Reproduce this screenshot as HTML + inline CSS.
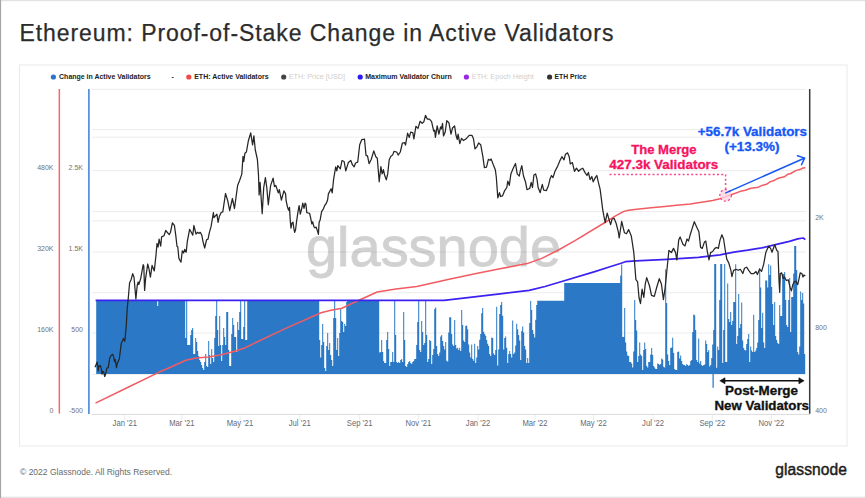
<!DOCTYPE html>
<html><head><meta charset="utf-8"><title>Ethereum: Proof-of-Stake Change in Active Validators</title>
<style>
html,body{margin:0;padding:0;background:#fff;}
body{width:865px;height:498px;overflow:hidden;font-family:"Liberation Sans",sans-serif;}
svg{display:block;}
text{font-family:"Liberation Sans",sans-serif;}
</style></head><body>
<svg width="865" height="498" viewBox="0 0 865 498">
<rect width="865" height="498" fill="#fff"/>
<!-- frame -->
<rect x="0" y="0" width="865" height="1.2" fill="#e2e2e2"/>
<rect x="0" y="496.6" width="865" height="1.4" fill="#e6e6e6"/>
<rect x="0" y="0" width="1.1" height="498" fill="#a6a6a6"/>
<!-- title -->
<text x="19.4" y="40.6" font-size="23" fill="#2c2c2c" stroke="#2c2c2c" stroke-width="0.25" textLength="594" lengthAdjust="spacing">Ethereum: Proof-of-Stake Change in Active Validators</text>
<!-- panel -->
<rect x="19.5" y="65" width="827.5" height="381" fill="#fff" stroke="#e9e9e9" stroke-width="1"/>
<!-- legend -->
<g font-size="7" font-weight="bold" fill="#222">
<circle cx="53.4" cy="77" r="2.6" fill="#2a74d0"/><text x="59.1" y="79.1" textLength="91.5" lengthAdjust="spacingAndGlyphs">Change in Active Validators</text>
<text x="171.5" y="79.1">-</text>
<circle cx="188.8" cy="77" r="2.6" fill="#f24a4a"/><text x="194.2" y="79.1" textLength="74.4" lengthAdjust="spacingAndGlyphs">ETH: Active Validators</text>
<circle cx="283.7" cy="77" r="2.6" fill="#444"/><text x="288.7" y="79.1" textLength="56.4" lengthAdjust="spacingAndGlyphs" fill="#cfcfcf" font-weight="normal">ETH: Price [USD]</text>
<circle cx="360.2" cy="77" r="2.6" fill="#2a18f5"/><text x="365.2" y="79.1" textLength="86.5" lengthAdjust="spacingAndGlyphs">Maximum Validator Churn</text>
<circle cx="466.4" cy="77" r="2.6" fill="#9a28e0"/><text x="471.8" y="79.1" textLength="62" lengthAdjust="spacingAndGlyphs" fill="#cfcfcf" font-weight="normal">ETH: Epoch Height</text>
<circle cx="549.6" cy="77" r="2.6" fill="#333"/><text x="554.6" y="79.1" textLength="32" lengthAdjust="spacingAndGlyphs">ETH Price</text>
</g>
<!-- grid -->
<g stroke="#ececec" stroke-width="1"><line x1="92" x2="806" y1="89.4" y2="89.4"/><line x1="92" x2="806" y1="129.6" y2="129.6"/><line x1="92" x2="806" y1="137.2" y2="137.2"/><line x1="92" x2="806" y1="170.7" y2="170.7"/><line x1="92" x2="806" y1="211.6" y2="211.6"/><line x1="92" x2="806" y1="220.9" y2="220.9"/><line x1="92" x2="806" y1="252" y2="252"/><line x1="92" x2="806" y1="292.7" y2="292.7"/><line x1="92" x2="806" y1="333" y2="333"/><line x1="92" x2="806" y1="374.4" y2="374.4"/></g>
<line x1="92" x2="810" y1="414.4" y2="414.4" stroke="#dadada" stroke-width="1"/>
<!-- watermark -->
<text x="306" y="265.7" font-size="56" fill="#000" stroke="#000" opacity="0.175" stroke-width="0.9" textLength="255" lengthAdjust="spacingAndGlyphs">glassnode</text>
<!-- bars -->
<path d="M96.2,374.0V300.9H97.2V300.9H98.2V300.9H99.2V300.9H100.2V300.9H101.2V300.9H102.2V300.9H103.2V300.9H104.2V300.9H105.2V300.9H106.2V300.9H107.2V300.9H108.2V300.9H109.2V300.9H110.2V300.9H111.2V300.9H112.2V300.9H113.2V300.9H114.2V300.9H115.2V300.9H116.2V300.9H117.2V300.9H118.2V300.9H119.2V300.9H120.2V300.9H121.2V300.9H122.2V300.9H123.2V300.9H124.2V300.9H125.2V300.9H126.2V300.9H127.2V300.9H128.2V300.9H129.2V300.9H130.2V300.9H131.2V300.9H132.2V300.9H133.2V300.9H134.2V300.9H135.2V300.9H136.2V300.9H137.2V300.9H138.2V300.9H139.2V300.9H140.2V300.9H141.2V300.9H142.2V300.9H143.2V300.9H144.2V300.9H145.2V300.9H146.2V300.9H147.2V300.9H148.2V300.9H149.2V300.9H150.2V300.9H151.2V300.9H152.2V300.9H153.2V300.9H154.2V300.9H155.2V300.9H156.2V300.9H157.2V306.0H158.2V300.9H159.2V300.9H160.2V300.9H161.2V300.9H162.2V300.9H163.2V300.9H164.2V300.9H165.2V300.9H166.2V300.9H167.2V300.9H168.2V300.9H169.2V300.9H170.2V300.9H171.2V300.9H172.2V300.9H173.2V300.9H174.2V300.9H175.2V300.9H176.2V300.9H177.2V300.9H178.2V300.9H179.2V300.9H180.2V300.9H181.2V300.9H182.2V300.9H183.2V300.9H184.2V300.9H185.2V338.0H186.2V300.9H187.2V345.0H188.2V345.0H189.2V345.0H190.2V335.0H191.2V330.0H192.2V328.0H193.2V354.0H194.2V354.0H195.2V338.0H196.2V342.0H197.2V351.0H198.2V356.0H199.2V360.0H200.2V362.0H201.2V365.0H202.2V368.0H203.2V370.0H204.2V362.0H205.2V354.0H206.2V366.0H207.2V367.0H208.2V341.0H209.2V355.0H210.2V364.0H211.2V349.0H212.2V358.0H213.2V362.0H214.2V338.0H215.2V316.0H216.2V300.9H217.2V330.0H218.2V346.0H219.2V316.0H220.2V345.0H221.2V361.0H222.2V345.0H223.2V328.0H224.2V337.0H225.2V345.0H226.2V312.0H227.2V312.0H228.2V350.0H229.2V366.0H230.2V366.0H231.2V334.0H232.2V318.0H233.2V325.0H234.2V337.0H235.2V337.0H236.2V352.0H237.2V322.0H238.2V330.0H239.2V312.0H240.2V300.9H241.2V339.0H242.2V339.0H243.2V327.0H244.2V300.9H245.2V340.0H246.2V340.0H247.2V300.9H248.2V300.9H249.2V300.9H250.2V300.9H251.2V300.9H252.2V300.9H253.2V300.9H254.2V300.9H255.2V300.9H256.2V300.9H257.2V300.9H258.2V300.9H259.2V300.9H260.2V300.9H261.2V300.9H262.2V300.9H263.2V300.9H264.2V300.9H265.2V300.9H266.2V300.9H267.2V300.9H268.2V300.9H269.2V300.9H270.2V300.9H271.2V300.9H272.2V300.9H273.2V300.9H274.2V300.9H275.2V300.9H276.2V300.9H277.2V300.9H278.2V300.9H279.2V300.9H280.2V300.9H281.2V300.9H282.2V300.9H283.2V300.9H284.2V300.9H285.2V300.9H286.2V300.9H287.2V300.9H288.2V300.9H289.2V300.9H290.2V300.9H291.2V300.9H292.2V300.9H293.2V300.9H294.2V300.9H295.2V300.9H296.2V300.9H297.2V300.9H298.2V300.9H299.2V300.9H300.2V300.9H301.2V300.9H302.2V300.9H303.2V300.9H304.2V300.9H305.2V300.9H306.2V300.9H307.2V300.9H308.2V300.9H309.2V300.9H310.2V300.9H311.2V300.9H312.2V300.9H313.2V300.9H314.2V300.9H315.2V300.9H316.2V300.9H317.2V300.9H318.2V300.9H319.2V340.0H320.2V357.5H321.2V345.0H322.2V324.0H323.2V342.0H324.2V368.0H325.2V371.0H326.2V346.0H327.2V333.0H328.2V350.0H329.2V343.0H330.2V355.0H331.2V360.0H332.2V366.0H333.2V318.0H334.2V300.9H335.2V318.0H336.2V350.0H337.2V338.0H338.2V356.0H339.2V333.0H340.2V309.0H341.2V321.0H342.2V322.0H343.2V332.0H344.2V324.0H345.2V326.0H346.2V302.0H347.2V300.9H348.2V300.9H349.2V300.9H350.2V300.9H351.2V300.9H352.2V300.9H353.2V300.9H354.2V300.9H355.2V300.9H356.2V300.9H357.2V300.9H358.2V300.9H359.2V300.9H360.2V300.9H361.2V300.9H362.2V300.9H363.2V300.9H364.2V300.9H365.2V300.9H366.2V300.9H367.2V300.9H368.2V300.9H369.2V300.9H370.2V300.9H371.2V300.9H372.2V300.9H373.2V300.9H374.2V300.9H375.2V300.9H376.2V300.9H377.2V300.9H378.2V300.9H379.2V352.6H380.2V352.0H381.2V340.0H382.2V352.0H383.2V361.0H384.2V363.0H385.2V363.0H386.2V340.0H387.2V332.0H388.2V349.0H389.2V366.0H390.2V362.0H391.2V362.0H392.2V352.0H393.2V362.0H394.2V301.0H395.2V335.0H396.2V362.0H397.2V363.0H398.2V362.0H399.2V363.0H400.2V360.0H401.2V359.0H402.2V362.0H403.2V312.0H404.2V340.0H405.2V366.0H406.2V367.0H407.2V364.0H408.2V362.0H409.2V361.0H410.2V363.0H411.2V364.0H412.2V362.0H413.2V361.0H414.2V359.0H415.2V359.0H416.2V345.0H417.2V322.0H418.2V301.0H419.2V350.0H420.2V352.0H421.2V321.0H422.2V332.0H423.2V345.0H424.2V343.0H425.2V300.9H426.2V335.0H427.2V362.0H428.2V359.0H429.2V340.0H430.2V341.0H431.2V364.0H432.2V355.0H433.2V349.0H434.2V309.0H435.2V307.6H436.2V346.0H437.2V354.0H438.2V356.0H439.2V352.6H440.2V336.6H441.2V335.0H442.2V341.0H443.2V346.0H444.2V349.4H445.2V342.0H446.2V360.7H447.2V361.5H448.2V332.5H449.2V317.3H450.2V317.3H451.2V334.0H452.2V344.6H453.2V346.0H454.2V320.0H455.2V345.0H456.2V348.6H457.2V347.8H458.2V350.0H459.2V347.8H460.2V351.0H461.2V310.0H462.2V325.0H463.2V340.6H464.2V342.0H465.2V326.0H466.2V325.6H467.2V329.3H468.2V344.6H469.2V352.6H470.2V357.5H471.2V344.6H472.2V359.0H473.2V360.7H474.2V343.8H475.2V363.0H476.2V357.5H477.2V346.0H478.2V349.4H479.2V339.8H480.2V334.0H481.2V313.3H482.2V308.0H483.2V331.7H484.2V334.0H485.2V335.8H486.2V340.0H487.2V343.8H488.2V346.0H489.2V354.0H490.2V356.0H491.2V337.4H492.2V338.0H493.2V353.4H494.2V355.0H495.2V350.0H496.2V306.8H497.2V365.5H498.2V349.4H499.2V314.0H500.2V305.0H501.2V302.0H502.2V315.7H503.2V349.4H504.2V338.0H505.2V336.6H506.2V347.8H507.2V363.0H508.2V354.0H509.2V351.0H510.2V354.0H511.2V357.5H512.2V320.5H513.2V354.0H514.2V352.6H515.2V345.4H516.2V323.7H517.2V329.3H518.2V335.0H519.2V340.6H520.2V359.9H521.2V331.0H522.2V326.6H523.2V332.5H524.2V346.0H525.2V349.4H526.2V363.0H527.2V358.0H528.2V363.0H529.2V323.0H530.2V301.0H531.2V310.0H532.2V330.0H533.2V334.0H534.2V337.4H535.2V319.7H536.2V305.0H537.2V300.7H538.2V300.7H539.2V300.7H540.2V300.7H541.2V300.7H542.2V300.7H543.2V300.7H544.2V300.7H545.2V300.7H546.2V300.7H547.2V300.7H548.2V300.7H549.2V300.7H550.2V300.7H551.2V300.7H552.2V300.7H553.2V300.7H554.2V300.7H555.2V300.7H556.2V300.7H557.2V300.7H558.2V300.7H559.2V300.7H560.2V300.7H561.2V300.7H562.2V300.7H563.2V300.7H564.2V283.0H565.2V283.0H566.2V283.0H567.2V283.0H568.2V283.0H569.2V283.0H570.2V283.0H571.2V283.0H572.2V283.0H573.2V283.0H574.2V283.0H575.2V283.0H576.2V283.0H577.2V283.0H578.2V283.0H579.2V283.0H580.2V283.0H581.2V283.0H582.2V283.0H583.2V283.0H584.2V283.0H585.2V283.0H586.2V283.0H587.2V283.0H588.2V283.0H589.2V283.0H590.2V283.0H591.2V283.0H592.2V283.0H593.2V283.0H594.2V283.0H595.2V283.0H596.2V283.0H597.2V283.0H598.2V283.0H599.2V283.0H600.2V283.0H601.2V283.0H602.2V283.0H603.2V283.0H604.2V283.0H605.2V283.0H606.2V283.0H607.2V283.0H608.2V283.0H609.2V283.0H610.2V283.0H611.2V283.0H612.2V283.0H613.2V283.0H614.2V283.0H615.2V283.0H616.2V283.0H617.2V283.0H618.2V283.0H619.2V283.0H620.2V275.5H621.2V264.6H622.2V337.0H623.2V337.0H624.2V308.0H625.2V342.6H626.2V351.4H627.2V355.4H628.2V356.0H629.2V362.0H630.2V362.0H631.2V363.5H632.2V367.5H633.2V351.4H634.2V300.0H635.2V320.0H636.2V330.5H637.2V362.0H638.2V356.0H639.2V342.6H640.2V354.6H641.2V356.0H642.2V370.0H643.2V350.0H644.2V342.6H645.2V349.0H646.2V366.0H647.2V367.5H648.2V362.0H649.2V362.0H650.2V354.6H651.2V348.0H652.2V355.0H653.2V366.0H654.2V367.5H655.2V369.0H656.2V369.0H657.2V363.5H658.2V364.0H659.2V365.0H660.2V364.0H661.2V358.6H662.2V359.5H663.2V366.7H664.2V367.5H665.2V269.3H666.2V303.0H667.2V354.6H668.2V361.0H669.2V365.0H670.2V348.0H671.2V347.4H672.2V337.8H673.2V353.0H674.2V369.0H675.2V370.0H676.2V370.0H677.2V352.0H678.2V351.4H679.2V358.6H680.2V355.4H681.2V361.0H682.2V364.0H683.2V365.0H684.2V365.0H685.2V366.0H686.2V364.0H687.2V365.0H688.2V366.0H689.2V365.0H690.2V361.0H691.2V360.0H692.2V332.0H693.2V314.5H694.2V315.3H695.2V330.0H696.2V360.0H697.2V362.0H698.2V338.6H699.2V363.5H700.2V361.0H701.2V365.0H702.2V366.0H703.2V365.0H704.2V364.5H705.2V340.6H706.2V344.0H707.2V352.0H708.2V350.0H709.2V366.5H710.2V365.0H711.2V358.0H712.2V344.6H713.2V330.0H714.2V264.0H715.2V264.0H716.2V367.8H717.2V346.6H718.2V350.0H719.2V300.0H720.2V264.0H721.2V264.0H722.2V363.0H723.2V330.0H724.2V264.0H725.2V362.0H726.2V362.0H727.2V283.6H728.2V319.0H729.2V322.0H730.2V312.0H731.2V325.0H732.2V321.0H733.2V302.0H734.2V302.0H735.2V264.3H736.2V344.0H737.2V336.0H738.2V294.0H739.2V328.0H740.2V324.0H741.2V302.6H742.2V340.6H743.2V348.0H744.2V350.0H745.2V350.6H746.2V344.0H747.2V339.0H748.2V334.0H749.2V362.0H750.2V346.6H751.2V350.6H752.2V352.0H753.2V314.7H754.2V352.0H755.2V350.6H756.2V348.0H757.2V342.6H758.2V320.0H759.2V268.0H760.2V287.6H761.2V328.0H762.2V312.8H763.2V342.6H764.2V348.0H765.2V280.5H766.2V280.5H767.2V287.6H768.2V264.3H769.2V275.0H770.2V265.6H771.2V287.0H772.2V304.0H773.2V325.0H774.2V302.0H775.2V336.0H776.2V340.0H777.2V343.0H778.2V344.0H779.2V305.0H780.2V316.0H781.2V316.0H782.2V274.0H783.2V274.0H784.2V272.0H785.2V300.0H786.2V325.0H787.2V327.0H788.2V300.0H789.2V278.0H790.2V332.0H791.2V297.0H792.2V297.0H793.2V273.6H794.2V246.0H795.2V246.0H796.2V270.0H797.2V352.0H798.2V354.5H799.2V346.6H800.2V291.6H801.2V300.0H802.2V293.0H803.2V303.5H804.2V354.0H805.2V374.0Z" fill="#2b79c6"/>
<rect x="712.4" y="374" width="1.5" height="13.8" fill="#4a8fd8"/>
<!-- lines -->
<polyline points="95.5,403.1 129.6,386.5 158.7,372.3 169.9,367.5 185.8,360.3 196.2,358.0 208.7,356.9 221.0,354.8 233.7,351.5 244.0,348.2 283.6,329.4 321.0,312.8 331.0,310.3 341.8,308.3 360.6,299.5 377.2,292.0 396.0,289.1 416.8,286.6 448.0,279.5 475.0,273.8 500.0,268.8 527.1,263.6 541.8,258.4 558.5,250.0 569.2,243.8 575.0,240.6 606.6,221.5 616.0,215.7 622.9,211.8 627.0,210.6 634.6,209.4 650.9,207.7 664.8,206.5 676.5,205.3 690.5,204.1 696.6,203.0 712.7,200.6 720.0,198.8 725.6,196.6 732.6,194.2 741.8,190.9 745.3,190.3 751.0,188.2 758.3,187.2 762.0,185.4 766.4,184.3 770.0,181.9 774.6,180.2 779.0,178.0 784.3,176.8 788.0,174.2 790.8,173.5 795.7,170.6 800.6,169.2 803.0,168.0 805.4,167.8" fill="none" stroke="#f15c62" stroke-width="1.5" stroke-linejoin="round"/>
<polyline points="95.6,300.4 444.0,300.4 470.0,297.4 500.0,293.9 529.2,290.3 545.0,286.5 562.6,281.3 594.0,271.9 610.0,266.8 621.1,263.2 625.3,261.7 636.0,260.9 667.2,259.3 698.5,257.4 720.0,254.8 733.9,252.1 747.7,250.2 761.6,247.9 775.5,244.7 789.4,241.4 797.7,238.9 803.2,238.0 805.3,239.6" fill="none" stroke="#3b22f2" stroke-width="1.7" stroke-linejoin="round"/>
<polyline points="95.0,367.3 97.2,362.1 97.6,365.7 98.2,370.9 98.8,366.1 100.3,365.5 101.2,368.1 102.0,374.1 102.9,371.3 103.8,372.5 104.7,376.5 105.7,373.7 106.9,368.1 108.3,367.7 109.7,358.1 111.3,355.3 112.7,354.3 113.7,356.9 114.5,361.7 115.1,359.3 115.9,363.3 116.5,367.7 117.3,363.3 119.3,358.9 120.5,349.6 121.3,343.2 122.9,340.0 123.4,338.5 124.8,341.3 126.2,326.7 127.3,307.3 128.2,299.0 129.6,282.7 131.0,280.0 132.7,273.7 134.0,277.2 135.9,299.0 137.2,285.5 138.2,282.0 138.8,284.5 140.7,278.6 143.2,264.7 143.8,266.0 144.6,290.4 145.6,278.6 147.7,264.0 149.0,268.9 150.4,277.2 152.1,265.4 154.3,270.9 156.0,255.0 157.0,243.5 158.1,247.0 159.1,239.2 160.7,246.2 161.6,236.9 164.0,235.7 165.7,230.5 169.2,234.6 170.4,232.5 172.4,222.9 174.4,225.3 175.8,235.7 177.0,246.2 177.8,247.0 178.9,258.4 181.0,262.2 182.3,250.8 183.6,253.0 184.7,249.4 186.2,252.2 187.3,241.6 189.6,229.3 191.3,232.3 192.8,235.2 193.9,225.5 196.0,234.0 197.7,232.3 198.9,233.4 200.3,232.3 201.8,235.2 203.0,241.6 204.7,248.0 206.5,239.8 208.0,239.2 209.4,232.3 211.1,226.4 213.4,212.5 214.0,217.7 216.9,214.2 218.1,222.4 219.3,216.5 221.2,212.5 222.8,211.9 225.5,193.5 227.6,200.2 229.7,210.6 232.4,198.5 234.5,208.5 237.6,185.6 239.7,180.3 241.8,174.1 243.0,156.3 243.8,161.5 244.9,153.2 246.4,152.0 248.4,140.7 250.7,132.9 252.6,144.8 253.9,135.9 255.3,150.0 257.4,159.5 258.5,175.1 259.1,195.0 260.1,182.4 262.2,213.7 263.7,187.6 265.4,177.6 266.8,187.6 268.3,204.8 270.6,185.6 273.1,178.2 274.5,186.6 275.8,185.5 278.3,192.9 279.3,189.7 281.4,200.2 283.9,190.8 285.6,193.9 286.1,200.7 287.5,207.0 288.6,210.2 289.5,207.4 290.3,221.1 291.0,228.1 291.9,223.2 293.0,222.1 293.8,228.1 294.7,232.3 295.6,229.5 296.6,221.1 298.1,211.2 299.1,205.6 300.3,214.1 301.6,209.1 302.8,203.2 304.0,208.4 305.1,203.2 305.9,204.2 306.8,212.6 308.2,213.0 309.6,213.4 310.6,217.6 311.8,223.9 312.7,221.8 313.9,226.7 314.9,227.8 316.2,227.1 317.4,230.9 318.4,234.4 319.1,222.5 320.2,219.7 321.6,211.6 323.4,208.8 324.8,205.3 326.2,203.5 327.6,200.0 328.4,193.9 331.1,188.7 332.2,192.9 333.6,179.3 335.7,166.8 336.8,170.9 337.8,165.7 340.3,168.9 342.0,160.5 344.1,161.5 345.8,170.9 348.3,162.6 350.8,160.5 352.4,164.7 354.1,166.8 355.6,163.0 357.7,162.2 359.7,144.8 361.8,139.6 364.5,139.2 366.0,155.3 367.5,155.9 369.1,163.6 371.2,159.5 373.8,150.9 375.8,156.8 377.3,158.2 379.2,181.8 380.9,166.6 382.1,173.9 383.4,169.7 384.6,175.0 386.3,179.8 387.7,173.9 389.2,159.7 390.9,156.2 392.6,155.1 394.0,151.4 396.7,152.0 398.2,155.1 400.3,152.0 402.4,143.0 404.5,142.6 405.5,145.1 407.6,133.2 409.3,137.4 410.7,132.1 412.8,132.6 413.9,138.8 415.9,126.3 418.0,128.4 420.1,121.3 422.2,123.4 423.9,121.7 425.5,115.4 427.4,119.2 429.5,119.2 431.6,121.7 433.7,131.1 434.7,130.1 435.4,137.4 437.2,125.9 438.9,134.2 440.6,126.9 441.4,129.0 442.5,123.4 443.5,135.9 445.2,132.1 446.8,120.7 448.9,122.7 451.0,134.2 452.5,128.0 454.6,125.9 456.0,135.3 457.3,139.5 458.1,134.2 459.8,143.6 461.5,138.4 463.5,140.5 466.1,138.8 469.2,135.3 471.9,135.3 473.4,138.4 475.0,148.9 476.9,146.8 478.6,143.0 480.7,144.7 482.8,156.2 484.4,167.6 486.5,167.2 488.4,159.3 490.1,160.3 491.1,158.9 493.2,164.5 495.3,169.7 496.3,177.0 497.8,197.9 499.5,192.7 500.5,196.5 502.6,195.8 504.7,190.6 506.8,187.5 507.8,181.2 509.3,185.4 510.9,173.9 513.0,168.7 515.5,163.5 517.2,173.9 519.3,176.0 520.3,170.8 521.8,165.6 523.5,176.0 525.6,182.3 527.0,189.6 529.7,188.5 531.2,182.3 532.5,187.5 533.9,175.0 535.6,173.9 537.0,179.1 538.1,187.5 540.2,192.7 542.3,184.3 543.7,190.1 546.4,190.6 548.5,185.4 550.0,179.1 551.5,175.5 553.0,177.6 555.0,171.3 557.7,166.1 559.8,160.9 561.9,156.7 564.0,159.8 565.5,154.2 567.6,152.9 569.2,156.7 570.3,164.0 572.4,162.6 574.5,171.3 576.5,168.2 578.6,171.3 580.7,169.2 582.8,168.2 584.9,172.4 587.0,175.5 588.4,172.4 590.1,179.7 591.8,176.5 593.2,181.8 595.3,177.6 596.8,175.5 598.5,182.8 600.1,189.1 601.6,200.6 602.6,208.9 603.7,215.2 605.2,222.5 607.2,213.1 609.3,220.4 610.6,224.6 612.0,219.3 614.1,218.3 616.2,223.5 618.3,231.9 619.2,238.0 621.7,221.3 624.4,232.7 626.5,233.8 628.6,229.6 631.3,235.9 633.8,252.6 635.9,279.7 637.6,281.8 639.0,297.5 640.5,303.7 642.1,289.1 643.8,297.5 645.3,283.9 646.7,277.6 649.5,286.0 651.5,295.4 654.3,296.4 656.8,287.0 659.3,278.7 661.4,283.9 663.4,299.6 665.1,288.1 667.2,267.2 668.9,250.5 671.4,252.6 673.5,248.4 675.6,252.6 676.8,259.9 678.7,240.1 680.1,236.9 682.9,244.2 685.0,245.9 687.0,239.0 688.5,241.1 690.2,234.8 691.8,229.6 694.3,221.7 696.9,227.5 698.9,231.7 700.6,247.4 702.3,248.4 704.4,242.1 705.8,241.1 707.3,251.5 709.0,259.9 710.6,252.6 712.7,251.5 714.8,248.4 716.9,247.4 718.4,248.4 720.0,240.1 721.9,234.8 723.6,239.0 725.3,250.5 726.7,258.9 728.8,263.0 730.9,270.3 731.9,276.6 733.6,270.3 736.1,269.3 738.2,270.3 740.3,269.3 742.8,273.5 744.5,268.2 746.6,267.2 748.7,270.3 751.1,273.5 753.9,273.5 756.0,271.4 757.4,274.5 759.5,269.3 761.6,271.4 763.7,264.1 765.8,252.6 768.5,246.3 770.6,248.4 772.0,252.2 774.7,244.7 776.8,250.5 778.0,251.4 779.0,280.5 779.7,292.3 780.3,273.6 781.7,272.9 783.1,278.4 784.5,277.0 786.3,280.5 788.3,279.8 790.1,287.4 791.4,290.9 792.8,284.7 794.2,281.9 796.0,281.2 797.7,284.7 799.1,278.4 800.2,272.9 801.9,273.6 803.0,277.0 803.9,275.0 805.3,276.1" fill="none" stroke="#262626" stroke-width="1.25" stroke-linejoin="round"/>
<!-- axes -->
<line x1="59.35" x2="59.35" y1="89" y2="413.5" stroke="#f2686c" stroke-width="1.5"/>
<line x1="88.9" x2="88.9" y1="89" y2="414" stroke="#3a80d2" stroke-width="1.5"/>
<line x1="809.7" x2="809.7" y1="89" y2="413.7" stroke="#3a3a3a" stroke-width="1.5"/>
<g font-size="7" fill="#737373">
<g text-anchor="end">
<text x="53.5" y="170">480K</text><text x="53.5" y="251">320K</text><text x="53.5" y="332">160K</text><text x="53.5" y="412.8">0</text>
<text x="83" y="170">2.5K</text><text x="83" y="251">1.5K</text><text x="83" y="332">500</text><text x="83" y="412.8">-500</text>
</g>
<text x="815.2" y="220">2K</text><text x="815.2" y="330.2">800</text><text x="815.2" y="413">400</text>
</g>
<g font-size="8.6" fill="#666a75"><text transform="translate(124.8,426) scale(0.89,1)" text-anchor="middle">Jan '21</text><line x1="124.8" x2="124.8" y1="415" y2="420" stroke="#ececec" stroke-width="1"/><text transform="translate(181.8,426) scale(0.89,1)" text-anchor="middle">Mar '21</text><line x1="181.8" x2="181.8" y1="415" y2="420" stroke="#ececec" stroke-width="1"/><text transform="translate(240,426) scale(0.89,1)" text-anchor="middle">May '21</text><line x1="240" x2="240" y1="415" y2="420" stroke="#ececec" stroke-width="1"/><text transform="translate(299.7,426) scale(0.89,1)" text-anchor="middle">Jul '21</text><line x1="299.7" x2="299.7" y1="415" y2="420" stroke="#ececec" stroke-width="1"/><text transform="translate(359.7,426) scale(0.89,1)" text-anchor="middle">Sep '21</text><line x1="359.7" x2="359.7" y1="415" y2="420" stroke="#ececec" stroke-width="1"/><text transform="translate(418.4,426) scale(0.89,1)" text-anchor="middle">Nov '21</text><line x1="418.4" x2="418.4" y1="415" y2="420" stroke="#ececec" stroke-width="1"/><text transform="translate(478,426) scale(0.89,1)" text-anchor="middle">Jan '22</text><line x1="478" x2="478" y1="415" y2="420" stroke="#ececec" stroke-width="1"/><text transform="translate(535,426) scale(0.89,1)" text-anchor="middle">Mar '22</text><line x1="535" x2="535" y1="415" y2="420" stroke="#ececec" stroke-width="1"/><text transform="translate(593.4,426) scale(0.89,1)" text-anchor="middle">May '22</text><line x1="593.4" x2="593.4" y1="415" y2="420" stroke="#ececec" stroke-width="1"/><text transform="translate(653,426) scale(0.89,1)" text-anchor="middle">Jul '22</text><line x1="653" x2="653" y1="415" y2="420" stroke="#ececec" stroke-width="1"/><text transform="translate(712.3,426) scale(0.89,1)" text-anchor="middle">Sep '22</text><line x1="712.3" x2="712.3" y1="415" y2="420" stroke="#ececec" stroke-width="1"/><text transform="translate(771.4,426) scale(0.89,1)" text-anchor="middle">Nov '22</text><line x1="771.4" x2="771.4" y1="415" y2="420" stroke="#ececec" stroke-width="1"/></g>
<!-- annotations -->
<g font-weight="bold" font-size="12" text-anchor="middle" stroke-width="0.3">
<g fill="#f5145f" stroke="#f5145f">
<text x="663.9" y="153.8" font-size="12.4" textLength="65.4" lengthAdjust="spacingAndGlyphs">The Merge</text>
<text x="663.8" y="169" font-size="12.2" textLength="109" lengthAdjust="spacingAndGlyphs">427.3k Validators</text>
</g>
<g fill="#1558f5" stroke="#1558f5">
<text x="752.4" y="136.1" textLength="109.3" lengthAdjust="spacingAndGlyphs">+56.7k Validators</text>
<text x="752" y="151.1" textLength="55" lengthAdjust="spacingAndGlyphs">(+13.3%)</text>
</g>
<g fill="#111" stroke="#111">
<text x="761.5" y="395.1" textLength="73" lengthAdjust="spacingAndGlyphs">Post-Merge</text>
<text x="761.7" y="410.2" textLength="94.6" lengthAdjust="spacingAndGlyphs">New Validators</text>
</g>
</g>
<circle cx="725.6" cy="195.3" r="5.8" fill="#fbd3e0" fill-opacity="0.8" stroke="#f5468a" stroke-width="1.3" stroke-dasharray="2 2.3"/>
<path d="M609.5,174.5H725.6V189.5" fill="none" stroke="#f5468a" stroke-width="1.5" stroke-dasharray="2 2.3"/>
<g stroke="#1558f5" stroke-width="1.5" fill="none" stroke-linecap="round">
<line x1="725.8" y1="192.9" x2="804.2" y2="158.3"/>
<polyline points="797.4,155.8 804.6,158.1 801.5,164.8"/>
</g>
<g stroke="#111" fill="#111">
<line x1="723" x2="801" y1="380.8" y2="380.8" stroke-width="1.4"/>
<path d="M719.8,380.8L725,377.8V383.8Z" stroke-width="0.6"/>
<path d="M804.1,380.8L798.9,377.8V383.8Z" stroke-width="0.6"/>
</g>
<!-- footer -->
<text x="20" y="474.5" font-size="8.6" fill="#6a6a6a" textLength="152" lengthAdjust="spacingAndGlyphs">© 2022 Glassnode. All Rights Reserved.</text>
<text x="775.3" y="475.4" font-size="15.6" fill="#1d1d1d" stroke="#1d1d1d" stroke-width="0.45" textLength="71.6" lengthAdjust="spacing">glassnode</text>
</svg>
</body></html>
